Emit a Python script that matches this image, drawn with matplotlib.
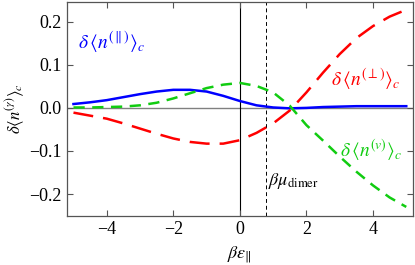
import numpy as np
import matplotlib
matplotlib.use("Agg")
import matplotlib.pyplot as plt

plt.rcParams['font.family'] = ['Liberation Serif', 'DejaVu Serif']
plt.rcParams['mathtext.fontset'] = 'stix'

x = [-5.0, -4.5, -4.0, -3.5, -3.0, -2.5, -2.0, -1.5, -1.0, -0.5, 0.0,
     0.5, 1.0, 1.5, 2.0, 2.5, 3.0, 3.5, 4.0, 4.5, 5.0]
n_par = [0.009, 0.013, 0.018, 0.025, 0.032, 0.038, 0.042, 0.042, 0.038, 0.028, 0.016,
         0.006, 0.001, -0.001, 0.000, 0.002, 0.003, 0.004, 0.004, 0.004, 0.004]
n_perp = [-0.011, -0.018, -0.025, -0.036, -0.048, -0.060, -0.071, -0.079, -0.083, -0.083, -0.075,
          -0.058, -0.036, -0.006, 0.036, 0.082, 0.125, 0.162, 0.190, 0.212, 0.228]
n_v = [0.001, 0.001, 0.002, 0.003, 0.006, 0.012, 0.022, 0.034, 0.046, 0.054, 0.058,
       0.051, 0.036, 0.005, -0.040, -0.076, -0.113, -0.148, -0.180, -0.208, -0.230]
mu_dimer = 0.8
xticks = [-4, -2, 0, 2, 4]
yticks = [-0.2, -0.1, 0.0, 0.1, 0.2]

fig = plt.figure(figsize=(4.15, 2.65), dpi=100)
ax = fig.add_axes([0.161, 0.185, 0.834, 0.8075])

ax.axhline(0, color='#808080', lw=1.0, zorder=1)
ax.axvline(0, color='black', lw=0.8, zorder=1)
ax.axvline(mu_dimer, color='black', lw=0.7, ls=(0, (4, 3)), zorder=1)

ax.plot(x, n_par, color='#0000ff', lw=1.8, zorder=3)
ax.plot(x, n_perp, color='#ff0000', lw=1.8, dashes=(8, 4), zorder=3)
ax.plot(x, n_v, color='#11cc11', lw=1.8, dashes=(4.5, 3), zorder=3)

ax.text(-4.85, 0.137, r'$\delta\,\left\langle n^{(\parallel)}\right\rangle_c$', color='#0000ff', fontsize=14)
ax.text(2.75, 0.052, r'$\delta\,\left\langle n^{(\perp)}\right\rangle_c$', color='#ff0000', fontsize=14)
ax.text(3.0, -0.112, r'$\delta\,\left\langle n^{(v)}\right\rangle_c$', color='#11cc11', fontsize=14)
ax.text(mu_dimer + 0.05, -0.18, r'$\beta\mu_{\rm dimer}$', color='black', fontsize=13)

ax.set_xlim(-5.2, 5.2)
ax.set_ylim(-0.251, 0.246)
ax.set_xticks(xticks)
ax.set_yticks(yticks)
ax.set_yticklabels(['\u22120.2', '\u22120.1', '0.0', '0.1', '0.2'], family='Liberation Serif')
ax.set_xticklabels(['\u22124', '\u22122', '0', '2', '4'], family='Liberation Serif')
ax.tick_params(direction='in', top=True, right=True, labelsize=13, length=4, color='#555555')
for s in ax.spines.values():
    s.set_color('#555555')
    s.set_linewidth(0.9)

ax.set_xlabel(r'$\beta\varepsilon_{\|}$', fontsize=13, labelpad=5)
ax.set_ylabel(r'$\delta\langle n^{(\gamma)}\rangle_c$', fontsize=12, labelpad=2)

fig.savefig('out.png', dpi=100)
